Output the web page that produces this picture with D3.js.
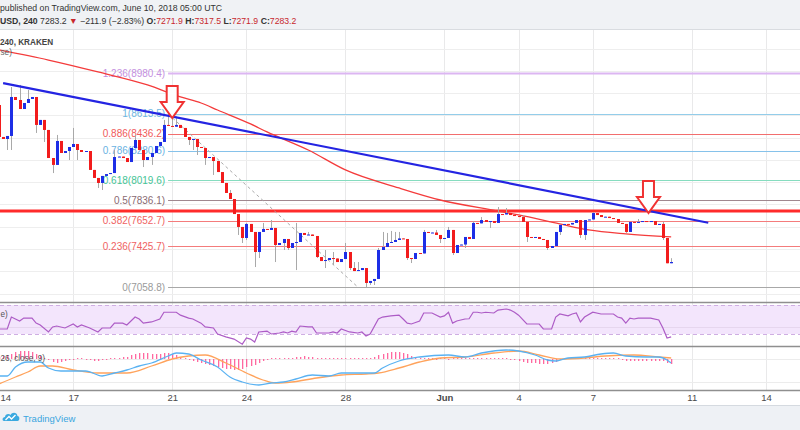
<!DOCTYPE html>
<html>
<head>
<meta charset="utf-8">
<script src="https://cdn.jsdelivr.net/npm/d3@7/dist/d3.min.js"></script>
<style>
  body { margin: 0; background: #fff; overflow: hidden; }
  svg { display: block; font-family: "Liberation Sans", Arial, sans-serif; }
</style>
</head>
<body>
<svg id="grafico" width="800" height="430"></svg>
<script>
// ---- datos (velas de 4h desde el 14 de mayo 2018) ----
var startTime = Date.UTC(2018, 4, 14, 0, 0);
var step = 4 * 3600 * 1000;
var firstOpen = 8693;

var closes = [
  8406, 8388, 8415, 8765, 8738, 8657, 8711, 8747, 8765, 8514,
  8559, 8469, 8217, 8155, 8370, 8262, 8280, 8316, 8343, 8289,
  8271, 8280, 8110, 8038, 7993, 8056, 8073, 8082, 8226, 8230,
  8217, 8181, 8307, 8379, 8289, 8199, 8226, 8262, 8325, 8361,
  8514, 8505, 8498, 8514, 8487, 8406, 8379, 8388, 8316, 8307,
  8217, 8226, 8190, 8091, 7993, 7903, 7849, 7714, 7598, 7499,
  7625, 7553, 7373, 7553, 7580, 7571, 7589, 7436, 7454, 7490,
  7409, 7454, 7463, 7544, 7526, 7530, 7517, 7328, 7292, 7301,
  7319, 7315, 7283, 7310, 7373, 7229, 7202, 7211, 7229, 7095,
  7113, 7131, 7391, 7418, 7454, 7463, 7481, 7495, 7490, 7319,
  7310, 7364, 7360, 7553, 7544, 7548, 7526, 7490, 7499, 7571,
  7364, 7436, 7440, 7508, 7490, 7634, 7630, 7660, 7643, 7651,
  7634, 7714, 7710, 7723, 7705, 7696, 7687, 7643, 7508, 7499,
  7508, 7490, 7481, 7409, 7427, 7553, 7616, 7625, 7620, 7634,
  7660, 7526, 7660, 7665, 7723, 7705, 7687, 7690, 7678, 7669,
  7634, 7625, 7553, 7643, 7640, 7643, 7651, 7648, 7651, 7616,
  7625, 7499, 7271.9, 7283.2
];

// [vela, maximo, minimo] donde la mecha se ve
var wicks = [
  [2, null, 8289], [3, 8855, 8289], [5, 8873, null], [7, 8828, null],
  [9, null, 8442], [11, null, 8361], [13, null, 8082], [14, 8424, null],
  [17, null, 8199], [18, 8487, null], [19, null, 8199], [24, null, 7948],
  [25, null, 7930], [28, 8289, 8091], [33, 8424, null], [35, null, 8136],
  [37, null, 8155], [40, 8559, null], [41, 8613.5, null], [42, 8600, null],
  [43, 8590, null], [46, null, 8334], [47, null, 8289], [48, null, 8244],
  [50, null, 8155], [52, null, 8065], [56, 7930, null], [58, null, 7526],
  [59, null, 7454], [60, 7634, 7481], [62, null, 7238], [63, null, 7319],
  [64, 7634, null], [66, 7660, null], [67, null, 7283], [69, null, 7391],
  [70, null, 7391], [72, 7634, 7211], [75, 7553, null], [77, null, 7319],
  [79, 7391, 7229], [81, 7373, 7256], [84, 7454, null], [85, null, 7211],
  [86, 7283, null], [87, 7283, null], [89, null, 7058.8], [90, null, 7077],
  [91, null, 7077], [92, 7409, null], [93, 7553, null], [94, 7544, null],
  [95, 7562, null], [96, 7553, null], [97, 7553, null], [99, null, 7301],
  [100, null, 7274], [103, 7571, null], [106, 7571, null], [107, null, 7454],
  [109, 7598, null], [110, null, 7346], [113, null, 7409], [115, 7651, null],
  [117, 7687, null], [119, null, 7589], [121, 7777, null], [123, 7768, null],
  [127, 7705, null], [128, null, 7463], [133, null, 7391], [136, null, 7526],
  [141, null, 7499], [142, null, 7481], [144, 7732, null], [152, null, 7544],
  [155, 7669, null], [161, 7643, 7481], [163, 7317.5, 7271.9]
];

// media movil (lecturas del grafico)
var maPoints = [
  ["2018-05-14T00:00", 9187], ["2018-05-16T00:00", 9097], ["2018-05-18T00:00", 8990],
  ["2018-05-20T00:00", 8873], ["2018-05-21T08:00", 8765], ["2018-05-22T04:00", 8711],
  ["2018-05-22T20:00", 8648], ["2018-05-24T04:00", 8523], ["2018-05-24T20:00", 8451],
  ["2018-05-26T12:00", 8289], ["2018-05-28T00:00", 8110], ["2018-05-30T04:00", 7948],
  ["2018-05-31T20:00", 7840], ["2018-06-03T04:00", 7741], ["2018-06-04T00:00", 7706],
  ["2018-06-05T16:00", 7625], ["2018-06-06T20:00", 7571], ["2018-06-08T08:00", 7535],
  ["2018-06-10T04:00", 7508]
];

var fibLevels = [1.236, 1, 0.886, 0.786, 0.618, 0.5, 0.382, 0.236, 0];
var fibValues = [8980.4, 8613.5, 8436.2, 8280.6, 8019.6, 7836.1, 7652.7, 7425.7, 7058.8];
var fibStart = ["2018-05-20T20:00", 8613.5];
var fibEnd = ["2018-05-28T12:00", 7058.8];

var trendLine = [["2018-05-14T04:00", 8890], ["2018-06-11T16:00", 7636]];
var resistance = 7741;
var arrows = [["2018-05-21T00:00", 8576], ["2018-06-09T06:00", 7723]];

// RSI [vela, valor]
var rsiPoints = [
  [0,36.9],[2,36.9],[3,53.4],[5,48],[6,52],[8,52],[9,45],[10,42.4],[12,32.8],[13,39.7],
  [14,41],[16,38.3],[18,43.8],[19,39.7],[20,42.4],[22,38.3],[24,32.8],[25,38.3],[27,38.3],
  [28,45],[30,45],[31,42.4],[33,53.4],[34,50.7],[35,45],[37,46.6],[39,50.7],[40,60],[41,60],
  [43,60],[44,56],[46,52],[47,50.7],[49,45],[50,39.7],[52,38.3],[53,30],[55,26],[57,23],
  [59,16],[60,24.5],[61,23],[62,19],[63,32.8],[65,34],[66,30],[68,31.4],[69,32.8],[70,31.4],
  [71,34],[72,32.8],[73,41],[75,39.7],[76,39.7],[77,31.4],[80,31.4],[81,32.8],[82,31.4],
  [83,36.9],[85,32.8],[87,31.4],[88,32.8],[89,27.2],[90,30],[92,50.7],[93,53.4],[95,55],
  [97,56],[98,50.7],[99,45],[100,43.8],[102,48],[103,59],[105,59],[107,53.4],[108,55],
  [109,60],[110,45],[111,48],[113,50.7],[114,51],[115,60],[116,60],[117,59],[118,60],
  [120,59],[121,63],[123,64.5],[124,63],[125,60],[126,56],[128,43.8],[129,43.8],[131,43.8],
  [132,36.9],[134,36.9],[135,53.4],[136,57.6],[138,55],[139,57.6],[140,59],[141,46.6],
  [142,53.4],[144,60],[146,57.6],[148,57.6],[149,57.6],[150,53.4],[151,52],[152,45],
  [153,52],[154,50.7],[155,52],[157,52],[158,52],[160,49.3],[161,38.3],[162,24.5],[163,26]
];

// MACD y senal [vela, valor]
var macdPoints = [
  [0,-102],[2,-102],[4,-48],[7,-18],[10,-18],[12,-54],[15,-72],[18,-72],[21,-72],[25,-102],
  [28,-84],[31,-66],[34,-42],[37,-24],[41,18],[43,36],[46,30],[49,-6],[53,-48],[56,-108],
  [59,-138],[63,-156],[66,-144],[69,-138],[72,-120],[76,-96],[80,-102],[83,-84],[88,-84],
  [91,-84],[93,-54],[97,-12],[102,12],[109,24],[113,12],[117,36],[123,54],[126,48],
  [130,24],[133,-6],[135,-12],[138,6],[142,12],[146,30],[149,36],[152,18],[157,12],
  [160,12],[162,-6],[163,-24]
];
var signalPoints = [
  [0,-150],[4,-108],[7,-78],[10,-42],[13,-42],[18,-66],[24,-84],[31,-84],[37,-42],[42,0],
  [46,18],[50,24],[55,-24],[60,-84],[64,-126],[67,-144],[71,-138],[77,-114],[83,-96],
  [89,-90],[92,-84],[97,-54],[102,-18],[107,6],[113,12],[120,36],[126,48],[131,24],
  [136,0],[142,6],[147,18],[154,24],[160,12],[163,6]
];
var histValues = [
  12,18,24,30,42,48,48,48,42,30, 18,6,-6,-18,-24,-18,-12,-6,-6,0,
  0,-6,-6,-12,-12,-6,-6,0,6,6, 12,12,24,30,36,36,36,30,30,30,
  36,36,30,24,12,6,-6,-12,-18,-24, -30,-36,-42,-48,-54,-60,-60,-66,-66,-60,
  -48,-42,-36,-24,-12,-6,0,6,6,6, 6,6,12,12,18,12,12,6,6,0,
  6,6,0,6,6,0,0,0,6,0, 6,12,24,30,36,42,42,42,36,30,
  18,12,6,6,0,0,-6,0,0,-6, 0,0,0,6,6,0,0,0,0,0,
  0,0,0,0,-6,-6,-12,-18,-24,-24, -24,-30,-30,-30,-24,-18,-6,0,0,6,
  6,0,0,6,6,6,6,0,0,0, 0,-6,-12,-12,-12,-12,-12,-12,-12,-12,
  -12,-12,-24,-30
];

var tickDates = ["2018-05-14", "2018-05-17", "2018-05-21", "2018-05-24", "2018-05-28",
                 "2018-06-01", "2018-06-04", "2018-06-07", "2018-06-11", "2018-06-14"];
var tickLabels = ["14", "17", "21", "24", "28", "Jun", "4", "7", "11", "14"];
var priceGrid = [7000, 7200, 7400, 7600, 7800, 8000, 8200, 8400, 8600, 8800, 9000, 9200];

// ---- estilos ----
var fibColors = ["#c48fe0", "#6db6e2", "#f05a5a", "#6ab2e2", "#45c596", "#8a6a72", "#f06262", "#f06262", "#9a9a9a"];
var fibLineColors = ["#dcb6f2", "#93cdea", "#f26e6e", "#86c2ea", "#86dcbf", "#a08890", "#f47c7c", "#f47c7c", "#a8a8a8"];
var upColor = "#1d2ee6", downColor = "#f21c1c", wickColor = "#a9a9a9";

var W = 800, H = 430;
var mainTop = 30, mainBottom = 302, rsiTop = 303, rsiBottom = 346, macdTop = 347, macdBottom = 390;

var parse = d3.utcParse("%Y-%m-%dT%H:%M");
var parseDay = d3.utcParse("%Y-%m-%d");
function candleTime(i) { return new Date(startTime + i * step); }

var svg = d3.select("#grafico");

var x = d3.scaleUtc()
  .domain([parseDay("2018-05-14"), parseDay("2018-06-14")])
  .range([-1, 766]);
var y = d3.scaleLinear().domain([7058.8, 8980.4]).range([287, 73]);
var yRsi = d3.scaleLinear().domain([30, 70]).range([334, 305]);
var yMacd = d3.scaleLinear().domain([-156, 0]).range([385, 359]);

// fondos
svg.append("rect").attr("width", W).attr("height", H).attr("fill", "#fff");
svg.append("rect").attr("width", W).attr("height", 29).attr("fill", "#f0f2f5");
svg.append("line").attr("x1", 0).attr("x2", W).attr("y1", 29.5).attr("y2", 29.5).attr("stroke", "#d9dce0");
svg.append("rect").attr("y", 405).attr("width", W).attr("height", 25).attr("fill", "#eef1f5");
svg.append("line").attr("x1", 0).attr("x2", W).attr("y1", 405.5).attr("y2", 405.5).attr("stroke", "#d5dae0");

// clips
var defs = svg.append("defs");
defs.append("clipPath").attr("id", "clipMain").append("rect")
  .attr("x", 0).attr("y", mainTop).attr("width", W).attr("height", mainBottom - mainTop);
defs.append("clipPath").attr("id", "clipRsi").append("rect")
  .attr("x", 0).attr("y", rsiTop).attr("width", W).attr("height", rsiBottom - rsiTop);
defs.append("clipPath").attr("id", "clipMacd").append("rect")
  .attr("x", 0).attr("y", macdTop).attr("width", W).attr("height", macdBottom - macdTop);

// rejilla vertical
var grid = svg.append("g");
[[mainTop, mainBottom], [rsiTop, rsiBottom], [macdTop, macdBottom]].forEach(function(p) {
  grid.selectAll(null).data(tickDates).enter().append("line")
    .attr("x1", function(d) { return Math.round(x(parseDay(d))) + 0.5; })
    .attr("x2", function(d) { return Math.round(x(parseDay(d))) + 0.5; })
    .attr("y1", p[0]).attr("y2", p[1])
    .attr("stroke", "#e9e9ea");
});
grid.selectAll(null).data(priceGrid).enter().append("line")
  .attr("x1", 0).attr("x2", W)
  .attr("y1", function(d) { return Math.round(y(d)) + 0.5; })
  .attr("y2", function(d) { return Math.round(y(d)) + 0.5; })
  .attr("stroke", "#eeeeee")
  .attr("clip-path", "url(#clipMain)");

// ---- panel principal ----
var main = svg.append("g").attr("clip-path", "url(#clipMain)");

// fibonacci
var fx0 = x(parse(fibStart[0]));
var fib = main.append("g");
fib.selectAll("line").data(fibValues).enter().append("line")
  .attr("x1", fx0).attr("x2", W)
  .attr("y1", function(d) { return Math.round(y(d)) + 0.5; })
  .attr("y2", function(d) { return Math.round(y(d)) + 0.5; })
  .attr("stroke", function(d, i) { return fibLineColors[i]; })
  .attr("stroke-width", function(d, i) { return i === 0 ? 2 : 1; });
fib.selectAll("text").data(fibValues).enter().append("text")
  .attr("x", fx0 - 3)
  .attr("y", function(d) { return y(d); })
  .attr("dy", "0.35em")
  .attr("text-anchor", "end")
  .attr("font-size", 10)
  .attr("fill", function(d, i) { return fibColors[i]; })
  .text(function(d, i) { return fibLevels[i] + "(" + d3.format(".1f")(d) + ")"; });

// resistencia roja
main.append("line")
  .attr("x1", 0).attr("x2", W)
  .attr("y1", y(resistance)).attr("y2", y(resistance))
  .attr("stroke", "#ff2b2b").attr("stroke-width", 3);

// media movil
main.append("path")
  .datum(maPoints)
  .attr("fill", "none")
  .attr("stroke", "#f43b3b")
  .attr("stroke-width", 1.3)
  .attr("d", d3.line()
    .curve(d3.curveMonotoneX)
    .x(function(d) { return x(parse(d[0])); })
    .y(function(d) { return y(d[1]); }));

// linea punteada del retroceso
main.append("line")
  .attr("x1", fx0).attr("y1", y(fibStart[1]))
  .attr("x2", x(parse(fibEnd[0]))).attr("y2", y(fibEnd[1]))
  .attr("stroke", "#a9a9a9").attr("stroke-width", 1)
  .attr("stroke-dasharray", "3,3");

// velas
var candles = closes.map(function(c, i) {
  var o = i === 0 ? firstOpen : closes[i - 1];
  return { t: candleTime(i), o: o, c: c, h: Math.max(o, c), l: Math.min(o, c) };
});
wicks.forEach(function(w) {
  var d = candles[w[0]];
  if (w[1] != null) d.h = Math.max(w[1], d.h);
  if (w[2] != null) d.l = Math.min(w[2], d.l);
});

var velas = main.append("g");
velas.selectAll("line").data(candles).enter().append("line")
  .attr("x1", function(d) { return Math.round(x(d.t)) + 0.5; })
  .attr("x2", function(d) { return Math.round(x(d.t)) + 0.5; })
  .attr("y1", function(d) { return y(d.h); })
  .attr("y2", function(d) { return y(d.l); })
  .attr("stroke", wickColor);
velas.selectAll("rect").data(candles).enter().append("rect")
  .attr("x", function(d) { return Math.round(x(d.t)) - 1; })
  .attr("width", 3)
  .attr("y", function(d) { return y(Math.max(d.o, d.c)); })
  .attr("height", function(d) { return Math.max(1, Math.abs(y(d.o) - y(d.c))); })
  .attr("fill", function(d) { return d.c >= d.o ? upColor : downColor; });

// linea de tendencia azul
main.append("line")
  .attr("x1", x(parse(trendLine[0][0]))).attr("y1", y(trendLine[0][1]))
  .attr("x2", x(parse(trendLine[1][0]))).attr("y2", y(trendLine[1][1]))
  .attr("stroke", "#2424e2").attr("stroke-width", 2.2);

// flechas
main.selectAll(".flecha").data(arrows).enter().append("path")
  .attr("class", "flecha")
  .attr("transform", function(d) { return "translate(" + x(parse(d[0])) + "," + y(d[1]) + ")"; })
  .attr("d", "M0,0L-11.5,-16L-5.5,-16L-5.5,-32L5.5,-32L5.5,-16L11.5,-16Z")
  .attr("fill", "#fff")
  .attr("stroke", "#f03232")
  .attr("stroke-width", 2)
  .attr("stroke-linejoin", "miter");

// ---- RSI ----
var rsiG = svg.append("g").attr("clip-path", "url(#clipRsi)");
rsiG.append("rect")
  .attr("x", 0).attr("width", W)
  .attr("y", yRsi(70)).attr("height", yRsi(30) - yRsi(70))
  .attr("fill", "#f3e5fc");
rsiG.selectAll(".banda").data([70, 30]).enter().append("line")
  .attr("x1", 0).attr("x2", W)
  .attr("y1", function(d) { return Math.round(yRsi(d)) + 0.5; })
  .attr("y2", function(d) { return Math.round(yRsi(d)) + 0.5; })
  .attr("stroke", "#cfaee3").attr("stroke-dasharray", "4,3");
rsiG.append("line")
  .attr("x1", 0).attr("x2", W).attr("y1", Math.round(yRsi(40)) + 0.5).attr("y2", Math.round(yRsi(40)) + 0.5)
  .attr("stroke", "#e6d6ee");
rsiG.append("path")
  .datum(rsiPoints)
  .attr("fill", "none")
  .attr("stroke", "#ad5cc6")
  .attr("stroke-width", 1.2)
  .attr("d", d3.line()
    .x(function(d) { return x(candleTime(d[0])); })
    .y(function(d) { return yRsi(d[1]); }));

// ---- MACD ----
var macdG = svg.append("g").attr("clip-path", "url(#clipMacd)");
macdG.selectAll(".rej").data([0, -138]).enter().append("line")
  .attr("x1", 0).attr("x2", W)
  .attr("y1", function(d) { return Math.round(yMacd(d)) + 0.5; })
  .attr("y2", function(d) { return Math.round(yMacd(d)) + 0.5; })
  .attr("stroke", "#ececec");
macdG.selectAll(".hist").data(histValues).enter().append("rect")
  .attr("x", function(d, i) { return Math.round(x(candleTime(i))); })
  .attr("width", 1.3)
  .attr("y", function(d) { return d >= 0 ? yMacd(d) - (d === 0 ? 1 : 0) : yMacd(0); })
  .attr("height", function(d) { return Math.max(1, Math.abs(yMacd(d) - yMacd(0))); })
  .attr("fill", "#ff4f8f")
  .attr("opacity", 0.85);
var lineMacd = d3.line()
  .curve(d3.curveMonotoneX)
  .x(function(d) { return x(candleTime(d[0])); })
  .y(function(d) { return yMacd(d[1]); });
macdG.append("path").datum(signalPoints)
  .attr("fill", "none").attr("stroke", "#ffa35c").attr("stroke-width", 1.3).attr("d", lineMacd);
macdG.append("path").datum(macdPoints)
  .attr("fill", "none").attr("stroke", "#5ab2f2").attr("stroke-width", 1.3).attr("d", lineMacd);

// separadores de paneles
svg.selectAll(".sep").data([302.5, 346.5, 390.5]).enter().append("line")
  .attr("x1", 0).attr("x2", W).attr("y1", function(d) { return d; }).attr("y2", function(d) { return d; })
  .attr("stroke", "#8f8f8f").attr("stroke-width", 1.4);

// eje de fechas
var axis = d3.axisBottom(x)
  .tickValues(tickDates.map(parseDay))
  .tickFormat(function(d, i) { return tickLabels[i]; })
  .tickSize(0)
  .tickPadding(4);
var axG = svg.append("g").attr("transform", "translate(0," + macdBottom + ")").call(axis);
axG.select(".domain").remove();
axG.selectAll("text")
  .attr("font-size", 9.5)
  .attr("font-family", "\"Liberation Sans\", Arial, sans-serif")
  .attr("fill", "#4a4a4a")
  .attr("font-weight", function(d, i) { return tickLabels[i] === "Jun" ? "bold" : "normal"; });
// la primera etiqueta queda en el borde: se alinea al inicio para que no se corte
axG.selectAll(".tick").filter(function(d, i) { return i === 0; })
  .select("text").attr("text-anchor", "start").attr("x", 1);

// ---- textos ----
svg.append("text").attr("x", 0).attr("y", 11).attr("font-size", 8.7).attr("fill", "#333")
  .text("published on TradingView.com, June 10, 2018 05:00 UTC");

var red = "#c8282d";
var hdr = svg.append("text").attr("x", 0).attr("y", 23.5).attr("font-size", 8.7).attr("fill", "#333");
hdr.append("tspan").attr("font-weight", "bold").text("USD, 240 ");
hdr.append("tspan").text("7283.2 ");
hdr.append("tspan").attr("fill", red).text("\u25BC ");
hdr.append("tspan").text("\u2212211.9 (\u22122.83%) ");
[["O:", "7271.9"], ["H:", "7317.5"], ["L:", "7271.9"], ["C:", "7283.2"]].forEach(function(p, i) {
  hdr.append("tspan").attr("font-weight", "bold").text(p[0]);
  hdr.append("tspan").attr("fill", red).text(p[1] + (i < 3 ? " " : ""));
});

// leyendas (solo la parte que se ve en la captura)
svg.append("text").attr("x", 0).attr("y", 45).attr("font-size", 8.2).attr("font-weight", "bold")
  .attr("fill", "#444").text("240, KRAKEN");
svg.append("text").attr("x", 0.5).attr("y", 55).attr("font-size", 8.2)
  .attr("fill", "#666").text("se)");
svg.append("text").attr("x", 0.5).attr("y", 317).attr("font-size", 8.2)
  .attr("fill", "#555").text("e)");
svg.append("text").attr("x", 0.5).attr("y", 361).attr("font-size", 8.2)
  .attr("fill", "#555").text("26, close, 9)");

// logo pie
var logo = svg.append("g").attr("transform", "translate(3,411)");
logo.append("path")
  .attr("d", "M1,10 C-1,10 -1,6 2,6 C2,3 6,2 7.5,4 C9,1 14,1 14.5,5 C17,5 17,10 14.5,10 Z")
  .attr("fill", "#3aa9e0");
logo.append("path")
  .attr("d", "M2.5,9 L6,5.5 L8.5,8 L12.5,4")
  .attr("fill", "none").attr("stroke", "#fff").attr("stroke-width", 1.3);
svg.append("text").attr("x", 23).attr("y", 422).attr("font-size", 9.5).attr("fill", "#3aa6e0")
  .text("TradingView");
</script>
</body>
</html>
